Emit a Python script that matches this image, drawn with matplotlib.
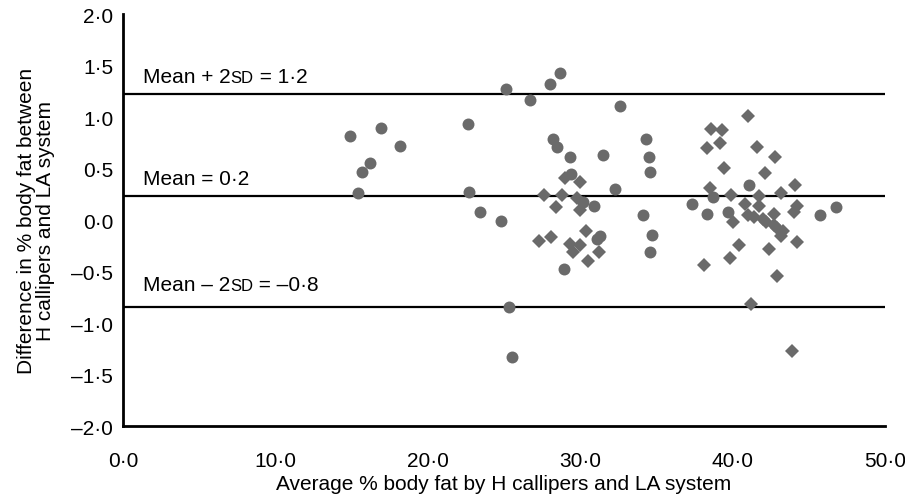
import matplotlib
matplotlib.use("Agg")
import matplotlib.pyplot as plt
from matplotlib.transforms import offset_copy

plt.rcParams['font.family'] = ['Liberation Sans', 'DejaVu Sans']

# circles
circ_x = [14.9, 15.4, 15.7, 16.2, 16.9, 18.2,
          22.6, 22.7, 23.4, 24.8, 25.1, 25.3, 25.5, 26.7, 28.0, 28.7,
          28.2, 28.5, 29.3, 31.5, 32.6, 32.3, 28.9, 29.4, 30.2, 30.9,
          31.1, 31.3,
          34.3, 34.5, 34.6, 34.1, 34.7, 34.6,
          37.3, 38.3, 38.7, 39.7, 41.1, 45.7, 46.8]
circ_y = [0.82, 0.26, 0.47, 0.55, 0.89, 0.72,
          0.93, 0.27, 0.08, -0.01, 1.27, -0.84, -1.33, 1.17, 1.32, 1.43,
          0.79, 0.71, 0.61, 0.63, 1.11, 0.30, -0.47, 0.45, 0.18, 0.14,
          -0.18, -0.15,
          0.79, 0.61, 0.47, 0.05, -0.14, -0.31,
          0.16, 0.06, 0.22, 0.08, 0.34, 0.05, 0.13]

# diamonds
diam_x = [27.6, 28.4, 27.3, 28.1, 29.0, 30.0, 28.8, 29.8, 30.0, 29.3,
          29.5, 30.4, 30.5, 31.2, 30.0,
          38.6, 39.3, 38.3, 39.2, 39.4, 38.5, 41.0, 41.6, 42.8, 42.1,
          44.1, 39.9, 43.2, 41.7, 40.8, 44.2, 44.0, 40.0, 41.4, 42.0,
          42.7, 42.7, 43.3, 44.2, 40.4, 42.4, 39.8, 38.1, 42.9, 41.2,
          43.9, 41.0, 42.2, 42.9, 43.2, 41.7]
diam_y = [0.24, 0.13, -0.20, -0.16, 0.41, 0.37, 0.24, 0.21, 0.10, -0.23,
          -0.31, -0.11, -0.40, -0.31, -0.24,
          0.88, 0.87, 0.70, 0.75, 0.51, 0.31, 1.01, 0.71, 0.61, 0.46,
          0.34, 0.24, 0.26, 0.23, 0.16, 0.14, 0.08, -0.02, 0.03, 0.01,
          0.06, -0.05, -0.11, -0.21, -0.24, -0.28, -0.37, -0.44, -0.54, -0.81,
          -1.27, 0.05, -0.02, -0.08, -0.15, 0.14]

# mean and limits of agreement
lines_y = [1.22, 0.23, -0.84]

xticks = [0, 10, 20, 30, 40, 50]
xtick_labels = ['0·0', '10·0', '20·0', '30·0', '40·0', '50·0']
yticks = [-2.0, -1.5, -1.0, -0.5, 0.0, 0.5, 1.0, 1.5, 2.0]
ytick_labels = ['–2·0', '–1·5', '–1·0', '–0·5', '0·0', '0·5', '1·0', '1·5', '2·0']

fig = plt.figure(figsize=(9.05, 5.02), dpi=100)
ax = fig.add_axes([0.136, 0.149, 0.842, 0.821])

grey = '#6a6a6a'
ax.plot(circ_x, circ_y, 'o', color=grey, markersize=8.6, markeredgewidth=0, zorder=3)
ax.plot(diam_x, diam_y, 'D', color=grey, markersize=7.0, markeredgewidth=0, zorder=3)

for yl in lines_y:
    ax.axhline(yl, color='black', linewidth=1.6, zorder=2)

ax.set_xlim(0, 50)
ax.set_ylim(-2, 2)
ax.set_xticks(xticks)
ax.set_xticklabels(xtick_labels)
ax.set_yticks(yticks)
ax.set_yticklabels(ytick_labels)
ax.tick_params(axis='both', length=0, labelsize=15)
ax.tick_params(axis='x', pad=18)
ax.tick_params(axis='y', pad=7)
for s in ['top', 'right']:
    ax.spines[s].set_visible(False)
for s in ['left', 'bottom']:
    ax.spines[s].set_linewidth(2)

ax.set_xlabel('Average % body fat by H callipers and LA system', fontsize=15, labelpad=3)
ax.set_ylabel('Difference in % body fat between\nH callipers and LA system', fontsize=15,
              labelpad=12, linespacing=1.0)

# labels with small-caps SD
renderer = fig.canvas.get_renderer()


def parts_text(x, y, parts):
    dx = 0
    for s, fs in parts:
        tr = offset_copy(ax.transData, fig=fig, x=dx, y=0, units='dots')
        t = ax.text(x, y, s, fontsize=fs, transform=tr, va='baseline', ha='left')
        dx += t.get_window_extent(renderer=renderer).width


parts_text(1.3, 1.34, [('Mean + 2', 15), ('SD', 12), (' = 1·2', 15)])
parts_text(1.3, 0.35, [('Mean = 0·2', 15)])
parts_text(1.3, -0.68, [('Mean – 2', 15), ('SD', 12), (' = –0·8', 15)])

fig.savefig('out.png', dpi=100)
